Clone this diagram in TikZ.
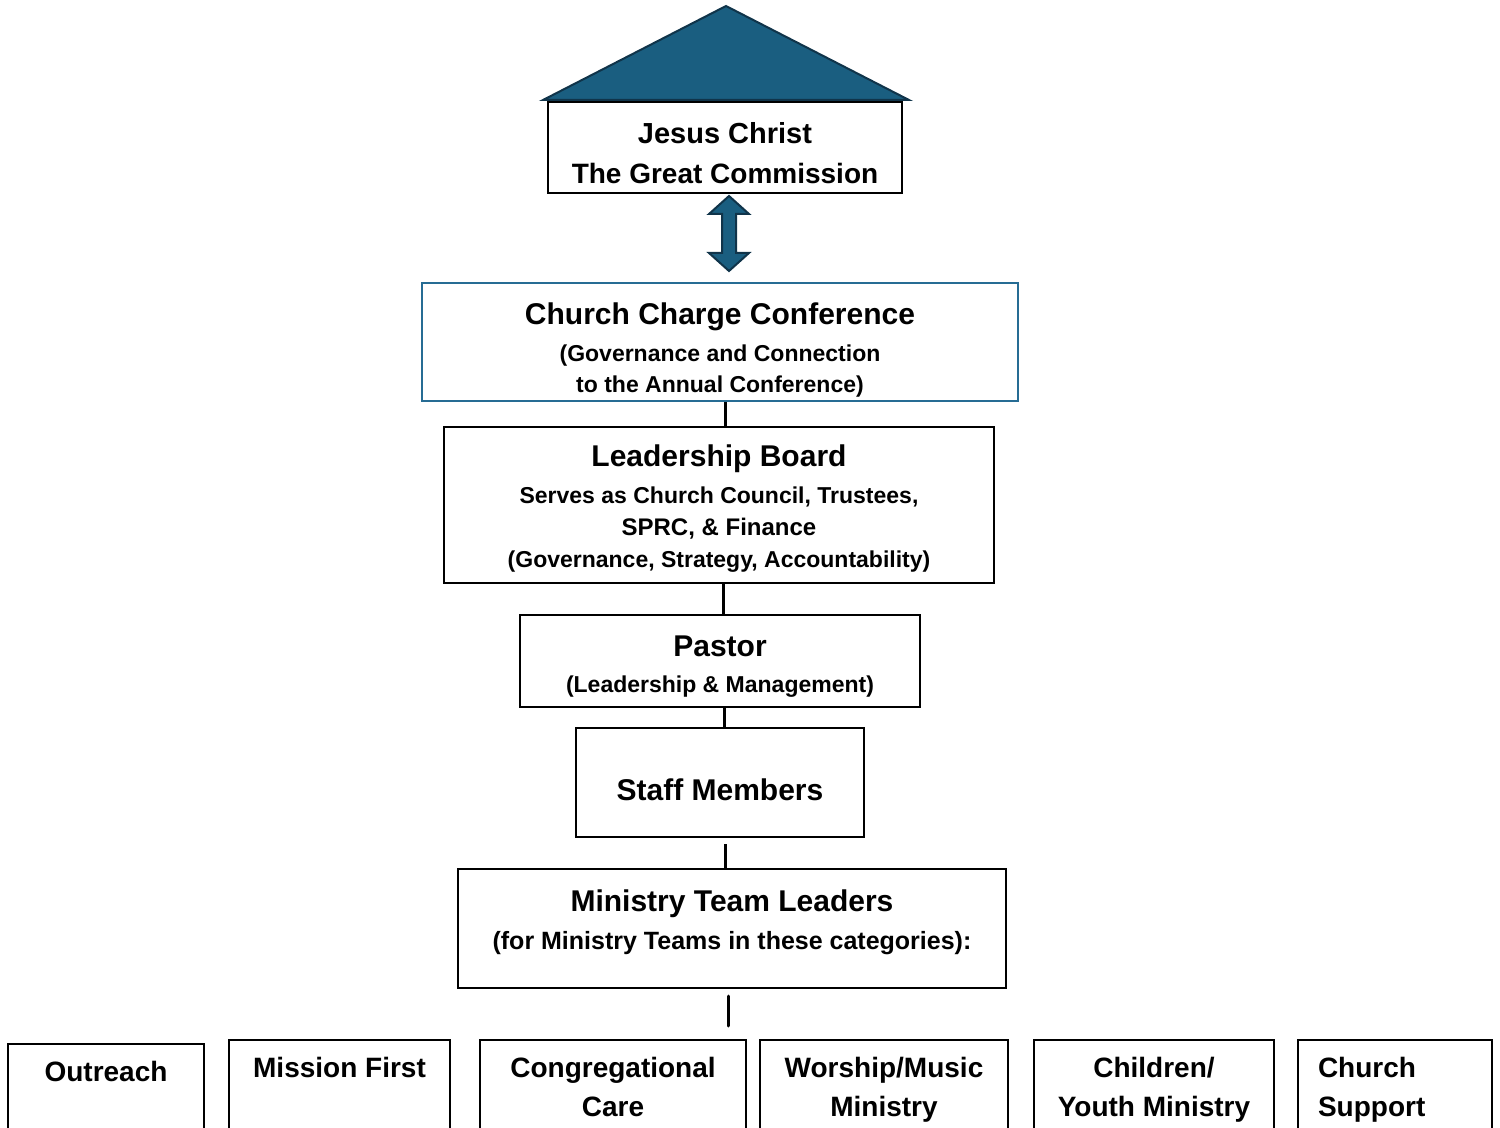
\documentclass[tikz,border=0pt]{standalone}
\usepackage{fontspec}
\setmainfont{Liberation Sans}
\definecolor{roofblue}{RGB}{26,94,128}
\definecolor{roofedge}{RGB}{16,52,74}
\definecolor{confblue}{RGB}{38,108,148}

\newcommand{\bigsize}{\fontsize{15}{18}\selectfont}
\newcommand{\smallsize}{\fontsize{11.5}{16}\selectfont}
% extra room above the first line, pushes a text block down inside its box
\newcommand{\headroom}[1]{\rule{0pt}{#1}}

\tikzset{
  orgbox/.style={draw, line width=1pt, inner sep=0pt, align=center, font=\bfseries\smallsize},
  link/.style={line width=1.5pt},
  catbox/.style={draw, line width=1pt, inner xsep=0pt, inner ysep=5pt, anchor=north,
    font=\bfseries\fontsize{14}{19.5}\selectfont}
}

\begin{document}
\begin{tikzpicture}[x=0.5pt, y=-0.5pt]
  \useasboundingbox (0,0) rectangle (1500,1128);
  \clip (0,0) rectangle (1500,1128);

  % roof
  \filldraw[fill=roofblue, draw=roofedge, line width=1pt] (543,100) -- (726,6) -- (909,100) -- cycle;

  \node[orgbox, minimum width=177pt, minimum height=45.5pt, font=\bfseries\fontsize{14}{20}\selectfont]
    (jesus) at (725,147.5) {\headroom{16.6pt}{\fontsize{14.5}{20}\selectfont Jesus Christ}\\The Great Commission};

  \node[orgbox, draw=confblue, minimum width=298pt, minimum height=59pt,
    font=\bfseries\fontsize{11.5}{15.5}\selectfont]
    (conf) at (720,342) {\headroom{19pt}\bigsize Church Charge Conference\\[3pt]
      \smallsize (Governance and Connection\\to the Annual Conference)};

  % two-way arrow between Jesus and conference
  \coordinate (dbl) at (729,233.5);
  \filldraw[fill=roofblue, draw=roofedge, line width=1pt]
    ([shift={(0,-37.5)}]dbl) -- ++(20,18) -- ++(-13,0) -- ++(0,39) -- ++(13,0) -- ++(-20,18)
    -- ++(-20,-18) -- ++(13,0) -- ++(0,-39) -- ++(-13,0) -- cycle;

  \node[orgbox, minimum width=275pt, minimum height=78pt]
    (board) at (719,505) {\headroom{14pt}\bigsize Leadership Board\\[2.5pt]
      \smallsize Serves as Church Council, Trustees,\\{\fontsize{12}{16}\selectfont SPRC, \& Finance}\\
      (Governance, Strategy, Accountability)};

  \node[orgbox, minimum width=200pt, minimum height=46pt]
    (pastor) at (720,661) {\headroom{15.5pt}\bigsize Pastor\\[2pt]\smallsize (Leadership \& Management)};

  \node[orgbox, minimum width=144pt, minimum height=54.5pt]
    (staff) at (720,782.5) {\headroom{18pt}\bigsize Staff Members};

  \node[orgbox, minimum width=274pt, minimum height=59.5pt]
    (leaders) at (732,928.5) {\bigsize Ministry Team Leaders\\[3pt]
      {\fontsize{12.5}{16}\selectfont (for Ministry Teams in these categories):}\\[-7pt]};

  % ministry categories
  \node[catbox, minimum width=98pt] (outreach) at (106,1043)
    {\parbox[t][40pt][t]{98pt}{\centering\strut Outreach}};
  \node[catbox, minimum width=110.5pt] (mission) at (339.5,1039)
    {\parbox[t][40pt][t]{110.5pt}{\centering\strut Mission First}};
  \node[catbox, minimum width=133pt] (care) at (613,1039)
    {\parbox[t][40pt][t]{133pt}{\centering\strut Congregational\\Care}};
  \node[catbox, minimum width=124pt] (worship) at (884,1039)
    {\parbox[t][40pt][t]{124pt}{\centering\strut Worship/Music\\Ministry}};
  \node[catbox, minimum width=120pt] (youth) at (1154,1039)
    {\parbox[t][40pt][t]{120pt}{\centering\strut Children/\\Youth Ministry}};
  \node[catbox, minimum width=97pt, inner xsep=10pt] (support) at (1395,1039)
    {\parbox[t][40pt][t]{77pt}{\raggedright\strut Church\\Support}};

  % connectors
  \draw[link] ([xshift=2.5pt]conf.south) -- ([xshift=2.5pt]conf.south |- board.north);
  \draw[link] ([xshift=2pt]board.south) -- ([xshift=2pt]board.south |- pastor.north);
  \draw[link] ([xshift=2pt]pastor.south) -- ([xshift=2pt]pastor.south |- staff.north);
  \draw[link] ([xshift=2.5pt,yshift=-3pt]staff.south) -- ([xshift=2.5pt]staff.south |- leaders.north);
  \coordinate (catstop) at (728,1026);
  \draw[link, line cap=round] ([xshift=-2pt,yshift=-3.5pt]leaders.south) -- (catstop);
\end{tikzpicture}
\end{document}
